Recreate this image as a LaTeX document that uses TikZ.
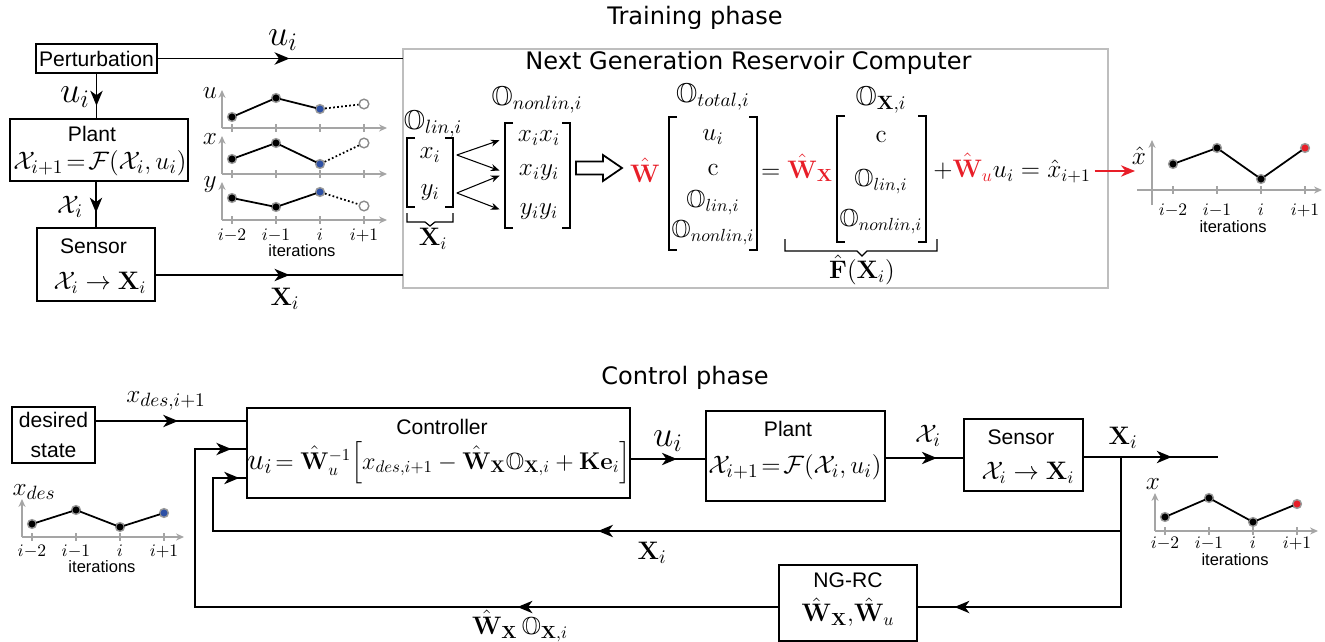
\documentclass[tikz,border=0pt]{standalone}
\usepackage{amsmath, amssymb}
\usepackage[no-math]{fontspec}
\usepackage{graphicx}
\usetikzlibrary{arrows.meta}
\usetikzlibrary{decorations.markings}
\usetikzlibrary{calc}

\newfontfamily\sfx{Liberation Sans}
\newfontfamily\ttlf{DejaVu Sans}

\definecolor{wred}{RGB}{232,30,40}
\definecolor{dotblue}{RGB}{45,80,165}
\definecolor{axgray}{RGB}{165,165,165}
\definecolor{boxgray}{RGB}{190,190,190}

\begin{document}
\begin{tikzpicture}[x=0.02cm, y=-0.02cm,
    blk/.style={draw, line width=1pt, inner sep=0pt},
    wire/.style={line width=1pt, line cap=rect},
    flow/.style={wire, postaction={decorate}, decoration={markings, mark=at position #1 with {\arrow{Stealth[length=8.5pt,width=7pt,inset=2.5pt]}}}},
    flow/.default=0.55,
    txt/.style={font=\sfx\fontsize{12}{14}\selectfont, inner sep=0pt},
    ttl/.style={font=\ttlf\fontsize{13.7}{16}\selectfont, inner sep=0pt},
    mth/.style={font=\fontsize{14}{16}\selectfont, inner sep=0pt},
    mlab/.style={font=\fontsize{15.5}{18}\selectfont, inner sep=0pt},
    mbig/.style={font=\fontsize{20}{22}\selectfont, inner sep=0pt},
    tlab/.style={font=\fontsize{10}{12}\selectfont, inner sep=0pt},
    itr/.style={font=\sfx\fontsize{9.4}{11}\selectfont, inner sep=0pt},
    axln/.style={draw=axgray, line width=1pt},
    axarr/.style={axln, -{Stealth[length=4.5pt,width=4pt]}},
    dot/.style={circle, fill=black, draw=black!40, line width=0.8pt, inner sep=0pt, minimum size=5pt},
    odot/.style={circle, fill=white, draw=black!45, line width=0.8pt, inner sep=0pt, minimum size=5.5pt},
    dots/.style={line width=1pt, dash pattern=on 1pt off 1.3pt},
    brk/.style={line width=0.7pt},
    fan/.style={line width=0.6pt, -{Stealth[length=5pt,width=4pt]}, shorten >=4pt},
    redarr/.style={line width=1pt, draw=wred, -{Stealth[length=8pt,width=6.5pt]}}]

\useasboundingbox (0,0) rectangle (1325,642);

% ---------------- Training phase ----------------
\node[ttl] (ttrain) at (695,18) {Training phase};

% left chain
\node[blk, txt, minimum width=2.42cm, minimum height=0.58cm] (pert) at (96.5,58.5) {Perturbation};
\node[blk, minimum width=3.56cm, minimum height=1.24cm] (plantA) at (99,150) {};
\node[txt] (plantAT) at (92,134) {Plant};
\node[mlab] (plantAF) at (100,163) {$\mathcal{X}_{i+1}\!=\!\mathcal{F}(\mathcal{X}_i,u_i)$};
\node[blk, minimum width=2.36cm, minimum height=1.46cm] (sensA) at (96,264.5) {};
\node[txt] (sensAT) at (93.5,246) {Sensor};
\node[mth] (sensAF) at (100,283) {$\mathcal{X}_i\rightarrow\mathbf{X}_i$};

% NG-RC box
\node[draw=boxgray, line width=1.5pt, minimum width=14.1cm, minimum height=4.78cm, inner sep=0pt] (ngrc) at (755.5,168.5) {};
\node[ttl] (tng) at (748.5,63) {Next Generation Reservoir Computer};

% connectors of the left chain
\draw[flow=0.54] (pert.east) -- (pert.east -| ngrc.west);
\node[mbig] (uTop) at (283,40) {$u_i$};
\draw[flow=0.72] (pert.south) -- (pert.south |- plantA.north);
\node[mbig] (uLeft) at (75,97) {$u_i$};
\draw[flow=0.68] (sensA.north |- plantA.south) -- (sensA.north);
\node[mlab] (xLeft) at (70,207) {$\mathcal{X}_i$};
\coordinate (sOut) at (155,275);
\draw[flow=0.545] (sOut) -- (sOut -| ngrc.west);
\node[mlab] (XTop) at (285,299) {$\mathbf{X}_i$};

% small plots u, x, y
\foreach \nm/\oy/\pa/\pb/\pc/\pd in {u/128/11/30/19/24, x/174/15/31/10/31, y/220/22/13/28/14} {
  \begin{scope}[shift={(222,\oy)}]
    \draw[axarr] (0,0) -- (165,0);
    \draw[axarr] (0,0) -- (0,-38);
    \foreach \k in {0,...,3} \draw[axln] (10+44*\k,-4) -- (10+44*\k,4);
    \node[mth] (\nm lab) at (-12,-35) {$\nm$};
    \node[dot] (\nm1) at (10,-\pa) {};
    \node[dot] (\nm2) at (54,-\pb) {};
    \node[dot, fill=dotblue] (\nm3) at (98,-\pc) {};
    \node[odot] (\nm4) at (142,-\pd) {};
    \draw[wire] (\nm1) -- (\nm2) -- (\nm3);
    \draw[dots] (\nm3) -- (\nm4);
  \end{scope}
}
\foreach \k/\t in {0/i{-}2, 1/i{-}1, 2/i, 3/i{+}1}
  \node[tlab] (ta\k) at (232+44*\k,235) {$\t$};
\node[itr] (itA) at (302,251) {iterations};

% linear and nonlinear parts
\node[mlab] (olin) at (433,124) {$\mathbb{O}_{lin,i}$};
\node[mth, minimum width=1.06cm] (xi) at (430,155) {$x_i$};
\node[mth, minimum width=1.06cm] (yi) at (430,193) {$y_i$};
\node[mth] (Xsub) at (433,239) {$\mathbf{X}_i$};
\node[mlab] (onl) at (537,100) {$\mathbb{O}_{nonlin,i}$};
\node[mth, minimum width=1.3cm] (xx) at (539,138) {$x_ix_i$};
\node[mth, minimum width=1.3cm] (xy) at (539,173) {$x_iy_i$};
\node[mth, minimum width=1.3cm] (yy) at (539,212) {$y_iy_i$};
\draw[fan] (xi.east) -- (xx.west);
\draw[fan] (xi.east) -- (xy.west);
\draw[fan] (yi.east) -- (xy.west);
\draw[fan] (yi.east) -- (yy.west);

% brackets of the four vectors
\foreach \l/\r/\t/\b in {407/453/138/207, 505/570/123/228, 669/757/117/250, 837/926/116/242} {
  \draw[brk] (\l+8,\t) -- (\l,\t) -- (\l,\b) -- (\l+8,\b);
  \draw[brk] (\r-8,\t) -- (\r,\t) -- (\r,\b) -- (\r-8,\b);
}
\draw[brk] (407,213) -- (407,222) -- (425,222) -- (430,226) -- (435,222) -- (453,222) -- (453,213);

% hollow arrow
\draw[line width=1pt] (576,161.5) -- (603,161.5) -- (603,155) -- (622,168) -- (603,181) -- (603,174.5) -- (576,174.5) -- cycle;

% feature vector and readout
\node[mth, text=wred] (wt) at (645,170) {$\hat{\mathbf{W}}$};
\node[mlab] (otot) at (713,97) {$\mathbb{O}_{total,i}$};
\node[mth] (v3a) at (713,137) {$u_i$};
\node[mth] (v3b) at (713,170) {$\mathrm{c}$};
\node[mth] (v3c) at (713,203) {$\mathbb{O}_{lin,i}$};
\node[mth] (v3d) at (713,233) {$\mathbb{O}_{nonlin,i}$};
\node[mth] (eqL) at (797,168) {$=\textcolor{wred}{\hat{\mathbf{W}}_{\mathbf{X}}}$};
\node[mlab] (oX) at (881,100) {$\mathbb{O}_{\mathbf{X},i}$};
\node[mth] (v4a) at (881,137) {$\mathrm{c}$};
\node[mth] (v4b) at (881,182) {$\mathbb{O}_{lin,i}$};
\node[mth] (v4c) at (881,222) {$\mathbb{O}_{nonlin,i}$};
\node[mth] (eqR) at (1012,168) {$+\textcolor{wred}{\hat{\mathbf{W}}_u}u_i=\hat{x}_{i+1}$};
\draw[brk] (785,239) -- (785,251) -- (857,251) -- (862,256) -- (867,251) -- (937,251) -- (937,239);
\node[mth] (Fh) at (862,270) {$\hat{\mathbf{F}}(\mathbf{X}_i)$};

% predicted state plot
\coordinate (xin) at (1135,171);
\draw[redarr, shorten <=2pt] (eqR.east |- xin) -- (xin);
\begin{scope}[shift={(1152,190)}]
  \draw[axarr] (-15,0) -- (170,0);
  \draw[axarr] (0,15) -- (0,-50);
  \foreach \k in {0,...,3} \draw[axln] (21+44*\k,-4) -- (21+44*\k,4);
  \node[mth] (xhlab) at (-13,-34) {$\hat{x}$};
  \node[dot] (h1) at (21,-26) {};
  \node[dot] (h2) at (65,-42) {};
  \node[dot] (h3) at (109,-11) {};
  \node[dot, fill=wred] (h4) at (153,-42) {};
  \draw[wire] (h1) -- (h2) -- (h3) -- (h4);
  \foreach \k/\t in {0/i{-}2, 1/i{-}1, 2/i, 3/i{+}1}
    \node[tlab] (tb\k) at (21+44*\k,20) {$\t$};
  \node[itr] (itB) at (81,37) {iterations};
\end{scope}

% ---------------- Control phase ----------------
\node[ttl] (tctrl) at (685,378) {Control phase};

\node[blk, align=center, font=\sfx\fontsize{12}{17}\selectfont, minimum width=1.66cm, minimum height=1.12cm] (des) at (53.5,435) {desired\\state};
\node[blk, minimum width=7.66cm, minimum height=1.8cm] (ctrl) at (438.5,453) {};
\node[txt] (ctrlT) at (442,427) {Controller};
\node[mth] (ctrlF) at (439,463) {\scalebox{0.955}{$\scalebox{1.25}{$u_i$}\!=\hat{\mathbf{W}}_u^{-1}\Big[x_{des,i+1}-\hat{\mathbf{W}}_{\mathbf{X}}\mathbb{O}_{\mathbf{X},i}+\mathbf{K}\mathbf{e}_i\Big]$}};
\node[blk, minimum width=3.58cm, minimum height=1.8cm] (plantB) at (795.5,456) {};
\node[txt] (plantBT) at (788,429) {Plant};
\node[mlab] (plantBF) at (795,467) {$\mathcal{X}_{i+1}\!=\!\mathcal{F}(\mathcal{X}_i,u_i)$};
\node[blk, minimum width=2.38cm, minimum height=1.44cm] (sensB) at (1023.5,455) {};
\node[txt] (sensBT) at (1021,437) {Sensor};
\node[mth] (sensBF) at (1028,473) {$\mathcal{X}_i\rightarrow\mathbf{X}_i$};
\node[blk, minimum width=2.76cm, minimum height=1.52cm] (ngrcB) at (848,603) {};
\node[txt] (ngrcBT) at (848,580) {NG-RC};
\node[mth] (ngrcBF) at (848,612) {$\hat{\mathbf{W}}_{\mathbf{X}},\!\hat{\mathbf{W}}_u$};

% forward path
\coordinate (dOut) at (95,421);
\draw[flow=0.55] (dOut) -- (dOut -| ctrl.west);
\node[mlab] (xdes) at (166,401) {$x_{des,i+1}$};
\coordinate (cOut) at ($(ctrl.east)+(0,6)$);
\draw[flow=0.62] (cOut) -- (cOut -| plantB.west);
\node[mbig] (uB) at (668,441) {$u_i$};
\coordinate (pOut) at ($(plantB.east)+(0,2)$);
\draw[flow=0.66] (pOut) -- (pOut -| sensB.west);
\node[mlab] (xB) at (928,436) {$\mathcal{X}_i$};
\coordinate (sOutB) at ($(sensB.east)+(0,2)$);
\coordinate (yOut) at (1217,457);
\draw[flow=0.66] (sOutB) -- (yOut);
\node[mlab] (XB) at (1123,438) {$\mathbf{X}_i$};

% feedback paths
\coordinate (br) at (1121,457);
\coordinate (fbA) at (1121,531);
\coordinate (fbB) at (213,531);
\coordinate (fbC) at (213,478);
\coordinate (fbD) at (1121,607);
\coordinate (fbE) at (195,607);
\coordinate (fbF) at (195,449);
\draw[wire] (br) -- (fbD);
\draw[flow=0.576] (fbA) -- (fbB);
\draw[wire] (fbB) -- (fbC);
\draw[flow=0.79] (fbC) -- (fbC -| ctrl.west);
\draw[flow=0.82] (fbD) -- (fbD -| ngrcB.east);
\draw[flow=0.447] (fbE -| ngrcB.west) -- (fbE);
\draw[wire] (fbE) -- (fbF);
\draw[flow=0.71] (fbF) -- (fbF -| ctrl.west);
\node[mlab] (XC) at (652,553) {$\mathbf{X}_i$};
\node[mth] (WO) at (520,626) {$\hat{\mathbf{W}}_{\mathbf{X}}\,\mathbb{O}_{\mathbf{X},i}$};

% desired trajectory plot
\begin{scope}[shift={(22,537)}]
  \draw[axarr] (0,0) -- (162,0);
  \draw[axarr] (0,0) -- (0,-38);
  \foreach \k in {0,...,3} \draw[axln] (10+44*\k,-4) -- (10+44*\k,4);
  \node[mlab] (xdlab) at (12,-45) {$x_{des}$};
  \node[dot] (d1) at (10,-13) {};
  \node[dot] (d2) at (54,-27) {};
  \node[dot] (d3) at (98,-10) {};
  \node[dot, fill=dotblue] (d4) at (142,-24) {};
  \draw[wire] (d1) -- (d2) -- (d3) -- (d4);
  \foreach \k/\t in {0/i{-}2, 1/i{-}1, 2/i, 3/i{+}1}
    \node[tlab] (tc\k) at (10+44*\k,14) {$\t$};
  \node[itr] (itC) at (80,30) {iterations};
\end{scope}

% measured state plot
\begin{scope}[shift={(1155,531)}]
  \draw[axarr] (0,0) -- (163,0);
  \draw[axarr] (0,0) -- (0,-38);
  \foreach \k in {0,...,3} \draw[axln] (10+44*\k,-4) -- (10+44*\k,4);
  \node[mth] (xlab) at (-2,-47) {$x$};
  \node[dot] (m1) at (10,-14) {};
  \node[dot] (m2) at (54,-33) {};
  \node[dot] (m3) at (98,-9) {};
  \node[dot, fill=wred] (m4) at (142,-27) {};
  \draw[wire] (m1) -- (m2) -- (m3) -- (m4);
  \foreach \k/\t in {0/i{-}2, 1/i{-}1, 2/i, 3/i{+}1}
    \node[tlab] (td\k) at (10+44*\k,12) {$\t$};
  \node[itr] (itD) at (80,29) {iterations};
\end{scope}

\end{tikzpicture}
\end{document}
